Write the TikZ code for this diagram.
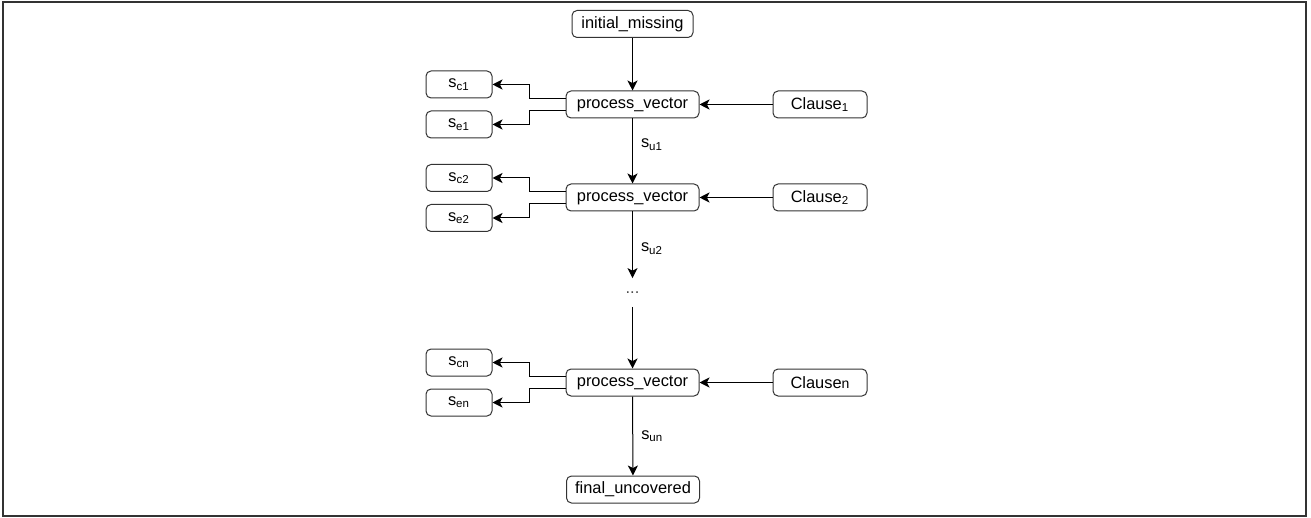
\documentclass[tikz,border=0pt]{standalone}
\usepackage{fontspec}
\setmainfont{Liberation Sans}
\usetikzlibrary{arrows.meta}
\begin{document}
\begin{tikzpicture}[x=0.5pt,y=-0.5pt,
  font=\fontsize{8.2}{10}\selectfont,
  box/.style={draw=black!80, line width=0.5pt, rounded corners=2.5pt, inner sep=0pt, anchor=center},
  pv/.style={box, minimum width=66.5pt, minimum height=13.5pt},
  sbox/.style={box, minimum width=33pt, minimum height=13.5pt},
  cbox/.style={box, minimum width=47pt, minimum height=13.5pt},
  conn/.style={draw=black, line width=0.5pt, -{Stealth[length=5pt,width=5pt,inset=1.3pt]}},
  lbl/.style={inner sep=0pt, anchor=west}]
\useasboundingbox (0,0) rectangle (1311,518);
\draw[line width=0.75pt, black!80] (3,2) rectangle (1306,516);

\node[pv, minimum width=60.5pt] (init) at (632.5,24) {initial\_missing};

\node[pv] (pv1) at (632.5,104.5) {process\_vector};
\node[pv] (pv2) at (632.5,197.5) {process\_vector};
\node[pv] (pv3) at (632.5,382.5) {process\_vector};
\node[pv] (fin) at (633,489.5) {final\_uncovered};

\node[inner sep=0pt, text height=1pt, text depth=0pt, minimum height=14pt, minimum width=10pt, text=black!70] (dots) at (632.5,292.5) {...};

\node[sbox] (sc1) at (459,84.5) {s\textsubscript{c1}};
\node[sbox] (se1) at (459,124.5) {s\textsubscript{e1}};
\node[sbox] (sc2) at (459,178) {s\textsubscript{c2}};
\node[sbox] (se2) at (459,218) {s\textsubscript{e2}};
\node[sbox] (scn) at (459,362.5) {s\textsubscript{cn}};
\node[sbox] (sen) at (459,402.5) {s\textsubscript{en}};

\node[cbox] (cl1) at (820,104.5) {Clause\textsubscript{1}};
\node[cbox] (cl2) at (820,197.5) {Clause\textsubscript{2}};
\node[cbox] (cln) at (820,382.5) {Clause{\fontsize{7}{8}\selectfont n}};

\draw[conn] (init) -- (pv1);
\draw[conn] (pv1) -- node[lbl, right=4pt, pos=0.4] {s\textsubscript{u1}} (pv2);
\draw[conn] (pv2) -- node[lbl, right=4pt, pos=0.56] {s\textsubscript{u2}} (dots);
\draw[conn] (dots) -- (pv3);
\draw[conn] (pv3) -- node[lbl, right=4pt, pos=0.5] {s\textsubscript{un}} (fin);

\foreach \p/\c/\e in {pv1/sc1/se1, pv2/sc2/se2, pv3/scn/sen}{
  \draw[conn] ([yshift=3pt]\p.west) -| (529,0 |- \c.east) -- (\c.east);
  \draw[conn] ([yshift=-3pt]\p.west) -| (529,0 |- \e.east) -- (\e.east);
}
\draw[conn] (cl1) -- (pv1);
\draw[conn] (cl2) -- (pv2);
\draw[conn] (cln) -- (pv3);
\end{tikzpicture}
\end{document}
